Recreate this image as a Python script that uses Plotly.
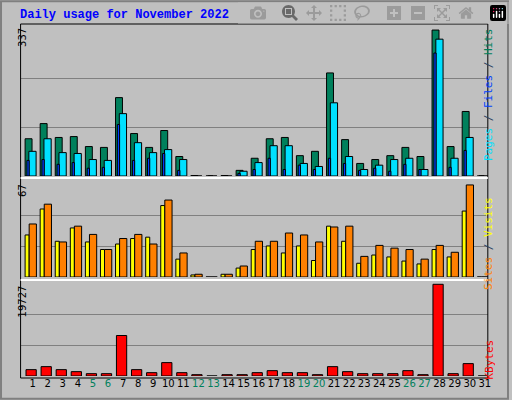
import plotly.graph_objects as go

days = list(range(1, 32))
hits = [86, 121, 89, 91, 68, 66, 181, 98, 66, 105, 45, 1, 0, 1, 13, 41, 86, 89, 47, 57, 238, 84, 29, 38, 47, 66, 45, 337, 68, 149, 0]
files = [57, 86, 54, 52, 38, 36, 144, 77, 54, 61, 38, 0, 0, 0, 11, 31, 70, 70, 29, 22, 169, 45, 15, 25, 38, 41, 15, 316, 41, 89, 0]
pages = [36, 38, 27, 31, 18, 20, 119, 36, 41, 52, 13, 0, 0, 0, 6, 15, 41, 15, 25, 15, 41, 29, 13, 18, 11, 27, 15, 284, 20, 59, 0]
visits = [30.6, 49.5, 26, 35.7, 25.5, 20, 24, 28, 29, 52, 13, 1.5, 0, 2, 6.5, 20, 22.6, 17.5, 22.6, 12, 37, 26, 10, 16, 14.6, 11.6, 9.5, 20, 14.6, 48, 0]
sites = [38.6, 53, 25.5, 37, 31, 20, 28, 31, 24, 56, 17.5, 2, 0, 2, 8, 26, 26, 32, 30.6, 25.5, 36.4, 37, 15, 23, 21, 20, 13, 23, 18, 67, 0]
kbytes = [1368, 2016, 1368, 936, 504, 504, 8711, 1368, 720, 2880, 720, 288, 0, 288, 288, 720, 1152, 720, 720, 288, 2016, 936, 504, 504, 504, 1152, 288, 19727, 504, 2664, 0]
weekends = [5, 6, 12, 13, 19, 20, 26, 27]

max_hits, max_visits, max_kb = 337, 67, 19727

fig = go.Figure()
line = dict(color="black", width=1)

def bar(y, color, offset, width, axis):
    return go.Bar(x=days, y=y, marker=dict(color=color, line=line), offset=offset, width=width,
                  xaxis="x", yaxis=axis, showlegend=False, hoverinfo="skip")

fig.add_trace(bar(hits, "#00805C", -0.5, 0.46, "y"))
fig.add_trace(bar(files, "#00E0FF", -0.25, 0.48, "y"))
fig.add_trace(bar(pages, "#0040FF", -0.38, 0.15, "y"))
fig.add_trace(bar(visits, "#FFFF00", -0.5, 0.27, "y2"))
fig.add_trace(bar(sites, "#FF8000", -0.23, 0.48, "y2"))
fig.add_trace(bar(kbytes, "#FF0000", -0.44, 0.68, "y3"))

ticktext = [f"<span style='color:#00805C'>{d}</span>" if d in weekends else str(d) for d in days]

x0, x1 = 20.7 / 512, 490.7 / 512
def dom(top, bot):
    return [1 - bot / 400, 1 - top / 400]

grid = dict(showgrid=True, gridcolor="#808080", gridwidth=1, showticklabels=False, zeroline=False, ticks="")
fig.update_layout(
    width=512, height=400, margin=dict(l=0, r=0, t=0, b=0),
    paper_bgcolor="#C0C0C0", plot_bgcolor="#C0C0C0", barmode="overlay",
    xaxis=dict(domain=[x0, x1], range=[0.2, 31.2], tickvals=days, ticktext=ticktext,
               anchor="y3", showgrid=False, ticks="", zeroline=False,
               tickfont=dict(family="DejaVu Sans", size=10, color="black")),
    yaxis=dict(domain=dom(24, 176), range=[0, 351], tickvals=[max_hits / 3, 2 * max_hits / 3], **grid),
    yaxis2=dict(domain=dom(180, 277), range=[0, 70.6], tickvals=[max_visits / 3, 2 * max_visits / 3], **grid),
    yaxis3=dict(domain=dom(280, 376), range=[0, 20655], tickvals=[max_kb / 3, 2 * max_kb / 3], **grid),
)

shapes = [
    dict(type="rect", xref="paper", yref="paper", x0=0.002, x1=0.998, y0=0.003, y1=0.997,
         line=dict(color="#808080", width=2)),
    dict(type="rect", xref="paper", yref="paper", x0=x0, x1=x1, y0=1 - 378 / 400, y1=1 - 24 / 400,
         line=dict(color="black", width=1)),
    dict(type="line", xref="paper", yref="paper", x0=x0, x1=x1, y0=1 - 178 / 400, y1=1 - 178 / 400,
         line=dict(color="white", width=2)),
    dict(type="line", xref="paper", yref="paper", x0=x0, x1=x1, y0=1 - 280 / 400, y1=1 - 280 / 400,
         line=dict(color="white", width=2)),
]
fig.update_layout(shapes=shapes)

ann_font = dict(family="DejaVu Sans", size=10, color="black")
side_font = dict(family="DejaVu Sans Mono", size=11)
anns = [
    dict(text="<b>Daily usage for November 2022</b>", x=18 / 512, y=1 - 15 / 400, xanchor="left",
         yanchor="middle", font=dict(family="Liberation Mono", size=12, color="#0000FF")),
    dict(text=str(max_hits), x=15 / 512, y=1 - 26 / 400, yanchor="top", textangle=-90, font=ann_font),
    dict(text=str(max_visits), x=15 / 512, y=1 - 182 / 400, yanchor="top", textangle=-90, font=ann_font),
    dict(text=str(max_kb), x=15 / 512, y=1 - 283 / 400, yanchor="top", textangle=-90, font=ann_font),
    dict(text="<span style='color:#00E0FF'>Pages</span> / <span style='color:#0040FF'>Files</span> / "
              "<span style='color:#00805C'>Hits</span>",
         x=500 / 512, y=1 - 26 / 400, yanchor="top", textangle=-90, font=side_font),
    dict(text="<span style='color:#FF8000'>Sites</span> / <span style='color:#FFFF00'>Visits</span>",
         x=500 / 512, y=1 - 195 / 400, yanchor="top", textangle=-90, font=side_font),
    dict(text="<span style='color:#FF0000'>KBytes</span>",
         x=500 / 512, y=1 - 338 / 400, yanchor="top", textangle=-90, font=side_font),
]
for a in anns:
    a.update(xref="paper", yref="paper", showarrow=False)
fig.update_layout(annotations=anns)

# drop the default page margin so the 512x400 figure fills the window
fig.write_html("out.html", post_script="document.body.style.margin='0';")
